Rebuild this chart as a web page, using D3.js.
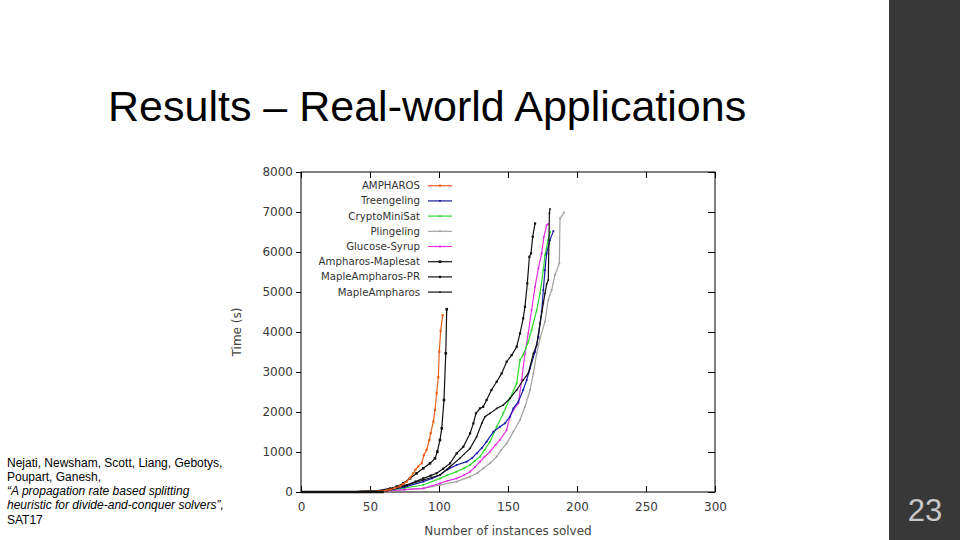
<!DOCTYPE html>
<html><head><meta charset="utf-8">
<script src="https://cdn.jsdelivr.net/npm/d3@7"></script>
<style>body{margin:0;background:#fff}svg{display:block}</style>
</head><body>
<svg id="c" width="960" height="540"></svg>
<script>
// ---- data ----
const xTicks = [0, 50, 100, 150, 200, 250, 300];
const yTicks = [0, 1000, 2000, 3000, 4000, 5000, 6000, 7000, 8000];
const seriesNames = ["AMPHAROS", "Treengeling", "CryptoMiniSat", "Plingeling", "Glucose-Syrup", "Ampharos-Maplesat", "MapleAmpharos-PR", "MapleAmpharos"];
const seriesColors = ["#e8601c", "#1c1ca8", "#2ed82e", "#a0a0a0", "#e030e0", "#111111", "#111111", "#111111"];

const ampharos = [[0,2],[20,4],[40,8],[55,20],[62,40],[64.5,60],[68,100],[71.7,140],[74,200],[76.6,260],[79,360],[81.4,470],[83,560],[85,640],[87.5,720],[89.1,925],[91,1050],[93,1300],[94,1470],[95.9,1760],[97.1,2050],[98.3,2470],[99.5,2870],[100.2,3510],[101.2,4030],[102.7,4420]];
const treengeling = [[0,2],[20,4],[40,8],[55,25],[65,60],[75,120],[88.6,258],[95,340],[100.7,425],[106,560],[112.8,675],[120,758],[124,850],[127.3,966],[131,1100],[134.5,1258],[139.4,1508],[144.2,1633],[147.8,1716],[151.4,1883],[153.9,2090],[157.5,2257],[161,2550],[163.5,2800],[166,3090],[169.6,3507],[172,3882],[174.4,4507],[175.6,5048],[176.8,5548],[178,5965],[180.4,6298],[182.9,6522]];
const cryptominisat = [[0,2],[20,4],[40,8],[55,20],[65,50],[75,100],[88.6,175],[100.7,340],[106,420],[112.8,508],[118,590],[122.5,675],[126,780],[129.7,883],[133,1050],[137,1258],[141.8,1633],[146.6,1966],[151.4,2340],[156.3,2716],[158.7,3300],[161,3424],[164.7,3757],[167.1,4050],[170.8,4550],[173.2,4965],[175.6,5548],[176.8,5923],[179.2,6300],[180.5,6500]];
const plingeling = [[0,2],[20,4],[40,8],[55,15],[65,35],[75,60],[88.6,90],[100.7,175],[112.8,258],[122.5,383],[128,480],[132,590],[137,720],[141.8,883],[145,1050],[149,1216],[153.9,1508],[158.7,1800],[162.3,2130],[166,2550],[168.4,2965],[170.8,3465],[173.2,3840],[176.8,4257],[179.2,4800],[181.6,5048],[184,5423],[187.2,5715],[187.7,6840],[190.6,6990]];
const glucose = [[0,2],[20,4],[40,8],[55,15],[65,35],[75,60],[88.6,90],[100.7,216],[106,280],[112.8,340],[118,420],[122.5,508],[126,620],[129.7,758],[133,880],[137,1008],[141,1180],[144.2,1300],[149,1550],[151.4,1883],[153.9,2050],[157.5,2216],[159.9,2800],[162.3,3465],[164.7,3965],[167.1,4550],[169.6,5130],[172,5590],[174.4,5965],[176,6380],[178,6672],[179.2,6700]];
const ampharosMaplesat = [[0,2],[20,4],[40,8],[55,15],[62.1,33],[69.3,133],[74.2,217],[79,342],[83.8,467],[88.6,592],[93.5,717],[97.1,842],[98.8,1008],[100.7,1300],[102,1592],[103.6,2300],[104.9,3467],[105.6,4570]];
const mapleAmpharosPR = [[0,2],[20,4],[40,8],[55,30],[64.5,90],[70,130],[76.6,175],[83,260],[88.6,340],[94,410],[98.3,470],[103,580],[108,716],[112.8,965],[117.6,1130],[122.5,1465],[124.9,1716],[126.8,1966],[129.7,2090],[132,2130],[134.5,2300],[138,2550],[141.8,2757],[145.4,2965],[149,3257],[152.7,3424],[156.3,3632],[158.7,3965],[161,4340],[162.3,4630],[164,5215],[165.5,5880],[166.7,5965],[167.9,6380],[169.6,6714]];
const mapleAmpharos = [[0,2],[20,4],[40,8],[55,20],[64.5,50],[75,150],[88.6,300],[100.7,425],[108,633],[115,841],[122.5,1090],[127.3,1380],[131,1716],[133.3,1883],[137,1966],[141.8,2090],[146.6,2174],[151.4,2340],[156.3,2550],[161,2800],[164.7,2965],[168.4,3465],[170.8,3674],[173.2,4215],[175.6,4715],[176.8,4965],[178,5200],[179.2,5300],[180,6964],[180.4,7075]];
const seriesData = [ampharos, treengeling, cryptominisat, plingeling, glucose, ampharosMaplesat, mapleAmpharosPR, mapleAmpharos];
const markerSizes = [2.2, 1.8, 1.8, 1.8, 1.8, 2.6, 2.2, 1.6];

const citation = ["Nejati, Newsham, Scott, Liang, Gebotys,", "Poupart, Ganesh,", "\u201CA propagation rate based splitting", "heuristic for divide-and-conquer solvers\u201D,", "SAT17"];
const citationItalic = [false, false, true, true, false];

// ---- drawing ----
const svg = d3.select("#c");
svg.append("rect").attr("width", 960).attr("height", 540).attr("fill", "#fff");
svg.append("rect").attr("x", 889).attr("y", 0).attr("width", 71).attr("height", 540).attr("fill", "#383838");
svg.append("text").attr("x", 925).attr("y", 521).attr("text-anchor", "middle")
  .attr("font-family", "Liberation Sans, Arial, sans-serif").attr("font-size", 31).attr("fill", "#c8c8c8").text("23");

svg.append("text").attr("x", 108).attr("y", 121)
  .attr("font-family", "Liberation Sans, Arial, sans-serif").attr("font-size", 43).attr("fill", "#000")
  .text("Results \u2013 Real-world Applications");

const cit = svg.append("g").attr("font-family", "Liberation Sans, Arial, sans-serif").attr("font-size", 12).attr("fill", "#000");
citation.forEach((t, i) => {
  cit.append("text").attr("x", 7).attr("y", 466.5 + i * 14.25)
    .attr("font-style", citationItalic[i] ? "italic" : "normal").text(t);
});

const L = 301, R = 715, T = 172, B = 492;
const x = d3.scaleLinear().domain([0, 300]).range([L, R]);
const y = d3.scaleLinear().domain([0, 8000]).range([B, T]);
const fontAx = "DejaVu Sans, Verdana, sans-serif";

const gL = svg.append("g").attr("transform", `translate(${L},0)`)
  .call(d3.axisLeft(y).tickValues(yTicks).tickSize(5).tickPadding(3).tickFormat(d3.format("d")));
const gR = svg.append("g").attr("transform", `translate(${R},0)`)
  .call(d3.axisRight(y).tickValues(yTicks).tickSize(-7).tickFormat(""));
const gB = svg.append("g").attr("transform", `translate(0,${B})`)
  .call(d3.axisBottom(x).tickValues(xTicks).tickSize(-6).tickPadding(10).tickFormat(d3.format("d")));
const gT = svg.append("g").attr("transform", `translate(0,${T})`)
  .call(d3.axisTop(x).tickValues(xTicks).tickSize(-6).tickFormat(""));
[gL, gR, gB, gT].forEach(g => {
  g.select(".domain").remove();
  g.selectAll("line").attr("stroke", "#000");
  g.selectAll("text").attr("font-family", fontAx).attr("font-size", 12).attr("fill", "#3a3a3a");
});
svg.append("rect").attr("x", L).attr("y", T).attr("width", R - L).attr("height", B - T)
  .attr("fill", "none").attr("stroke", "#000").attr("stroke-width", 1);

svg.append("text").attr("transform", `translate(241,${(T + B) / 2}) rotate(-90)`).attr("text-anchor", "middle")
  .attr("font-family", fontAx).attr("font-size", 12).attr("fill", "#444").text("Time (s)");
svg.append("text").attr("x", (L + R) / 2).attr("y", 535).attr("text-anchor", "middle")
  .attr("font-family", fontAx).attr("font-size", 12).attr("fill", "#444").text("Number of instances solved");

const line = d3.line().x(d => x(d[0])).y(d => y(d[1]));
const drawOrder = [3, 4, 2, 1, 7, 6, 5, 0];
const plot = svg.append("g");
drawOrder.forEach(i => {
  const g = plot.append("g");
  g.append("path").datum(seriesData[i]).attr("d", line).attr("fill", "none")
    .attr("stroke", seriesColors[i]).attr("stroke-width", 1.2);
  const s = markerSizes[i];
  g.selectAll("rect").data(seriesData[i].filter(d => d[0] > 60)).join("rect")
    .attr("x", d => x(d[0]) - s / 2).attr("y", d => y(d[1]) - s / 2)
    .attr("width", s).attr("height", s).attr("fill", seriesColors[i]);
});
// thick near-zero band
plot.append("path").datum([[0, 0], [60, 0]]).attr("d", line).attr("stroke", "#111").attr("stroke-width", 2.5);

// legend
const leg = svg.append("g").attr("font-family", fontAx).attr("font-size", 10.2).attr("fill", "#333");
seriesNames.forEach((n, i) => {
  const yy = 185.7 + i * 15.2;
  leg.append("text").attr("x", 420).attr("y", yy).attr("dy", "0.35em").attr("text-anchor", "end").text(n);
  leg.append("line").attr("x1", 428).attr("x2", 452).attr("y1", yy).attr("y2", yy)
    .attr("stroke", seriesColors[i]).attr("stroke-width", 1.2);
  const s = markerSizes[i];
  leg.append("rect").attr("x", 440 - s / 2).attr("y", yy - s / 2).attr("width", s).attr("height", s).attr("fill", seriesColors[i]);
});
</script>
</body></html>
